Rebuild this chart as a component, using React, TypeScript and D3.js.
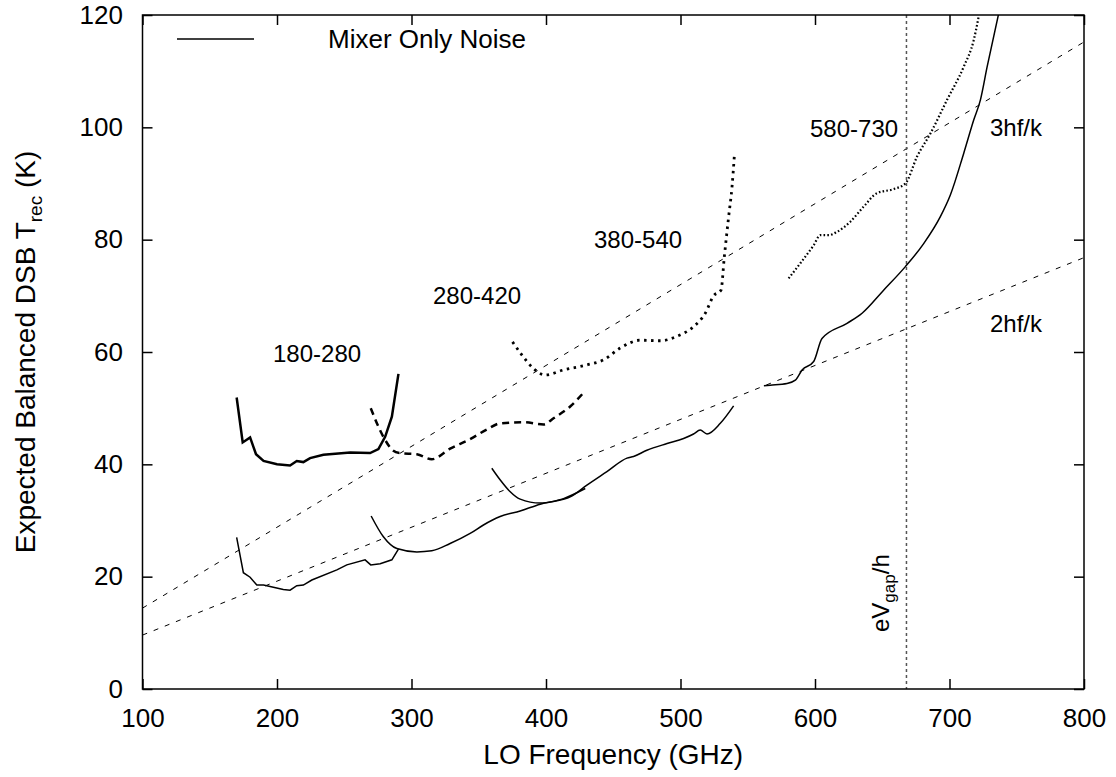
import React, { useRef, useEffect } from "react";
import * as d3 from "d3";

// band curves [GHz, K]
const band180 = [[170,51.9],[174.5,43.9],[180,44.8],[184.4,41.8],[190,40.6],[200,40.0],[209.7,39.8],[214.7,40.6],[219.6,40.4],[224.6,41.1],[234.5,41.7],[254.4,42.1],[269.2,42.0],[275.4,42.7],[280.4,44.9],[285.4,48.5],[290.3,56.1]];
const band280 = [[269.7,50.0],[279.1,44.9],[286.1,42.5],[291.5,42.0],[304,41.8],[315.1,40.9],[328.7,42.8],[343.6,44.5],[356,46.2],[366,47.3],[383.3,47.5],[398.2,47.1],[405.6,48.2],[418,50.3],[429.2,53.1]];
const band380 = [[375.1,61.8],[382,59.5],[390.5,57.1],[399.4,55.9],[413,56.8],[430.4,57.7],[442.8,58.6],[455.2,60.7],[470.1,62.1],[485,62.0],[497.4,62.8],[509.7,64.5],[518.4,66.9],[524.6,70.0],[530.1,71.0],[532.6,77.0],[535.8,84.1],[538.3,89.4],[540,94.8]];
const band580 = [[580.4,73.1],[589.1,75.8],[599,79.0],[604,80.8],[610.2,80.8],[616.4,81.4],[626.3,83.2],[636.2,85.9],[646.2,88.3],[658.5,89.0],[667.2,90.0],[675.9,94.8],[685.8,98.9],[698.2,104.9],[710.6,110.8],[718,115.5],[721.7,119.7]];

// mixer only noise segments
const mixA = [[170,27],[175,20.7],[180,19.9],[185,18.5],[190,18.5],[197.3,18.1],[204.7,17.7],[209.7,17.6],[214.7,18.4],[219.6,18.5],[225.9,19.4],[244.5,21.2],[251.9,22.1],[265.5,23.0],[269.7,22.1],[276.7,22.3],[285.4,23.0],[290.3,24.9]];
const mixB = [[270,30.8],[279.1,27.1],[289.1,25.0],[304,24.4],[315.1,24.6],[328.7,25.9],[343.6,27.7],[353.5,29.2],[365.9,30.7],[380.8,31.7],[395.7,32.9],[413,33.9],[429.2,35.7]];
const mixC = [[359.7,39.3],[366,37.2],[373,35.2],[380.8,33.8],[395.7,33.1],[405.6,33.4],[418,34.2],[430.4,36.3],[445.3,38.7],[460.2,41.1],[465.1,41.4],[475,42.5],[490,43.7],[502.3,44.6],[509.7,45.4],[514.7,46.1],[519.7,45.4],[529.6,47.3],[539.5,50.4]];
const mixD = [[562,54.0],[566.8,54.1],[579.2,54.4],[585.4,55.0],[590.4,56.8],[599,58.3],[605.2,62.4],[623.8,65.1],[635,66.9],[651,71.0],[667.2,75.2],[680.8,79.3],[693.2,84.1],[700.7,88.0],[710.6,95.4],[718,101.3],[723,104.9],[728,110.8],[736.6,120.3]];

// quantum limit lines
const line2hf = [[100,9.6],[800,76.8]];
const line3hf = [[100,14.4],[800,115.2]];
const gapFreq = 668;

const xTicks = [100, 200, 300, 400, 500, 600, 700, 800];
const yTicks = [0, 20, 40, 60, 80, 100, 120];

const W = 1116, H = 777;
const margin = { left: 142.5, right: 32, top: 15, bottom: 88 };
const font = "'Liberation Sans', Arial, Helvetica, sans-serif";

function Chart() {
  const xAxisRef = useRef(null);
  const yAxisRef = useRef(null);
  const topRef = useRef(null);
  const rightRef = useRef(null);

  const x = d3.scaleLinear().domain([100, 800]).range([margin.left, W - margin.right]);
  const y = d3.scaleLinear().domain([0, 120]).range([H - margin.bottom, margin.top]);
  const path = d3.line().x((d) => x(d[0])).y((d) => y(d[1]));
  const smooth = d3.line().x((d) => x(d[0])).y((d) => y(d[1])).curve(d3.curveMonotoneX);

  useEffect(() => {
    const style = (g) => {
      g.select(".domain").remove();
      g.selectAll("line").attr("stroke", "#000").attr("stroke-width", 1.5);
      g.selectAll("text").attr("font-size", 26).attr("font-family", font).attr("fill", "#000");
    };
    d3.select(xAxisRef.current).call(d3.axisBottom(x).tickValues(xTicks).tickSize(-10).tickPadding(19.5)).call(style);
    d3.select(yAxisRef.current).call(d3.axisLeft(y).tickValues(yTicks).tickSize(-10).tickPadding(19.5)).call(style);
    d3.select(topRef.current).call(d3.axisTop(x).tickValues(xTicks).tickSize(-10).tickFormat(() => "")).call(style);
    d3.select(rightRef.current).call(d3.axisRight(y).tickValues(yTicks).tickSize(-10).tickFormat(() => "")).call(style);
  }, []);

  const x0 = margin.left, x1 = W - margin.right, y0 = margin.top, y1 = H - margin.bottom;

  return (
    <svg width={W} height={H} style={{ position: "absolute", left: 0, top: 0, background: "#fff" }}>
      <defs>
        <clipPath id="plotClip">
          <rect x={x0} y={y0} width={x1 - x0} height={y1 - y0} />
        </clipPath>
      </defs>
      <g clipPath="url(#plotClip)" fill="none" stroke="#000">
        <path d={path(line3hf)} strokeWidth={1} strokeDasharray="5,7" />
        <path d={path(line2hf)} strokeWidth={1} strokeDasharray="5,7" />
        <line x1={x(gapFreq)} x2={x(gapFreq)} y1={y0} y2={y1} stroke="#555" strokeWidth={1.5} strokeDasharray="3,3" />
        <path d={path(mixA)} strokeWidth={1.5} />
        <path d={smooth(mixB)} strokeWidth={1.5} />
        <path d={smooth(mixC)} strokeWidth={1.5} />
        <path d={smooth(mixD)} strokeWidth={1.5} />
        <path d={path(band180)} strokeWidth={2.5} />
        <path d={smooth(band280)} strokeWidth={2.5} strokeDasharray="7,5" />
        <path d={smooth(band380)} strokeWidth={2.8} strokeDasharray="2.5,4.5" />
        <path d={smooth(band580)} strokeWidth={2.2} strokeDasharray="1.6,2.2" />
      </g>
      <g ref={xAxisRef} transform={`translate(0,${y1})`} />
      <g ref={yAxisRef} transform={`translate(${x0},0)`} />
      <g ref={topRef} transform={`translate(0,${y0})`} />
      <g ref={rightRef} transform={`translate(${x1},0)`} />
      <rect x={x0} y={y0} width={x1 - x0} height={y1 - y0} fill="none" stroke="#000" strokeWidth={1.5} />

      {/* legend */}
      <line x1={177} x2={254} y1={39} y2={39} stroke="#000" strokeWidth={1.5} />
      <g fontFamily={font} fill="#000">
        <text x={328} y={48} fontSize={26}>Mixer Only Noise</text>
        <text x={273} y={362} fontSize={24}>180-280</text>
        <text x={433} y={304} fontSize={24}>280-420</text>
        <text x={594} y={248} fontSize={24}>380-540</text>
        <text x={810} y={137} fontSize={24}>580-730</text>
        <text x={990} y={136} fontSize={24}>3hf/k</text>
        <text x={990} y={332} fontSize={24}>2hf/k</text>
        <text transform={`translate(889,632) rotate(-90)`} fontSize={24}>
          eV<tspan fontSize={17} dy={6}>gap</tspan><tspan dy={-6}>/h</tspan>
        </text>
        <text x={(x0 + x1) / 2} y={764} fontSize={28} textAnchor="middle">LO Frequency (GHz)</text>
        <text transform={`translate(35,${(y0 + y1) / 2}) rotate(-90)`} fontSize={28} textAnchor="middle">
          Expected Balanced DSB T<tspan fontSize={19} dy={7}>rec</tspan><tspan dy={-7}> (K)</tspan>
        </text>
      </g>
    </svg>
  );
}

export default function App() {
  return <Chart />;
}
